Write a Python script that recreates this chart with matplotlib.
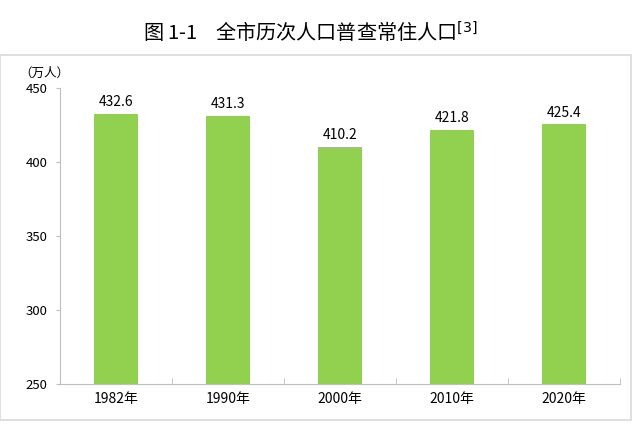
import matplotlib
matplotlib.use('Agg')
import matplotlib.pyplot as plt
import numpy as np

plt.rcParams['font.family'] = ['Noto Sans CJK SC', 'DejaVu Sans']

years = ['1982年', '1990年', '2000年', '2010年', '2020年']
population = [432.6, 431.3, 410.2, 421.8, 425.4]
yticks = [250, 300, 350, 400, 450]

fig = plt.figure(figsize=(6.4, 4.46), dpi=100)

# light frame around the chart area
frame = plt.Rectangle((0.0, 1 - 420/446), 631/640, (420 - 55)/446,
                      transform=fig.transFigure, fill=False,
                      edgecolor='#d9d9d9', linewidth=1.2)
fig.patches.append(frame)

ax = fig.add_axes([60/640, 1 - 384/446, 560/640, (384 - 88)/446])
x = np.arange(len(years))
bars = ax.bar(x, population, width=0.40, color='#92d050', zorder=2)

ax.set_xlim(-0.5, len(years) - 0.5)
ax.set_ylim(250, 450)
ax.set_yticks(yticks)
ax.set_xticks(x)
ax.set_xticklabels(years, fontsize=10)
ax.tick_params(axis='x', length=0, pad=6, colors='#000000')
ax.tick_params(axis='y', length=3, pad=6, color='#bfbfbf', labelsize=9.5)
ax.set_xticks(np.arange(len(years) + 1) - 0.5, minor=True)
ax.tick_params(axis='x', which='minor', direction='in', length=4, color='#bfbfbf')

for s in ['top', 'right']:
    ax.spines[s].set_visible(False)
ax.spines['left'].set_color('#bfbfbf')
ax.spines['bottom'].set_color('#bfbfbf')

for xi, v in zip(x, population):
    ax.text(xi, v + 3, f'{v:.1f}', ha='center', va='bottom', fontsize=10)

# unit label, sitting just above the top tick label
fig.text(44/640, 1 - 73/446, '（万人）', ha='center', va='center', fontsize=9)

fig.text(310/640, 1 - 33/446, '图 1-1    全市历次人口普查常住人口$^{[3]}$',
         ha='center', va='center', fontsize=14.5, fontweight='medium')

fig.savefig('out.png', dpi=100)
